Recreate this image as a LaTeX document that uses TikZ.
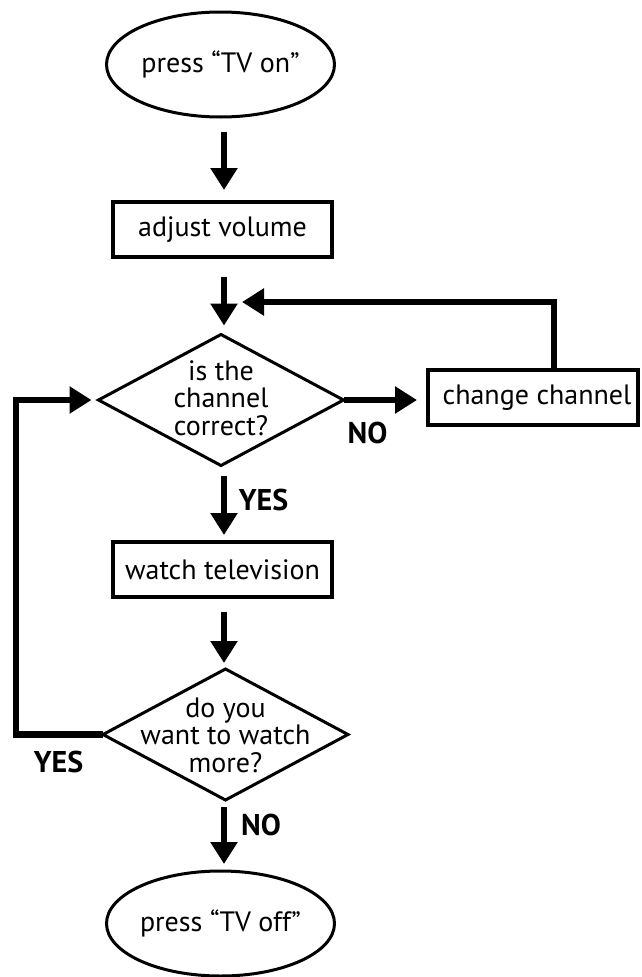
\documentclass[tikz,border=0pt]{standalone}
\usepackage{fontspec}
\setmainfont{PT Sans}
\usetikzlibrary{arrows.meta,shapes.geometric}
\begin{document}
\begin{tikzpicture}[x=1pt,y=-1pt,
  every node/.style={outer sep=0pt},
  txt/.style={font=\fontsize{28}{27.5}\selectfont, align=center, inner sep=0pt},
  lbl/.style={font=\fontsize{30}{30}\selectfont\bfseries, inner sep=0pt},
  term/.style={ellipse, draw, line width=3pt, minimum width=228pt, minimum height=105pt, inner sep=0pt, txt},
  proc/.style={rectangle, draw, line width=3.2pt, minimum width=219pt, minimum height=55pt, inner sep=0pt, txt},
  dec/.style={diamond, draw, line width=3pt, minimum width=245pt, minimum height=131pt, inner sep=0pt},
  arr/.style={line width=6.5pt, -{Triangle[length=22pt,width=26pt]}}
]
\useasboundingbox (0,0) rectangle (641,977);
\coordinate (col) at (224,0);
\node[term] (on)  at (220.5,64.5) {press “TV on”};
\node[proc] (vol) at (222.5,229.5) {adjust volume};
\node[dec]  (d1)  at (221,400) {};
\node[txt]  (d1t) at (221,398) {is the\\channel\\correct?};
\node[proc, minimum width=210pt] (chg) at (533,397.5) {\hspace*{8pt}change channel};
\node[proc] (wat) at (222.5,569.5) {watch television};
\node[dec]  (d2)  at (225.5,734.5) {};
\node[txt]  (d2t) at (225.5,735) {do you\\want to watch\\more?};
\node[term] (off) at (220.5,923.5) {press “TV off”};
\coordinate (fbtip) at (242,302);
\coordinate (lx) at (16,400);
\node[lbl] (no1)  at (367.5,433) {NO};
\node[lbl] (yes1) at (263.5,500) {YES};
\node[lbl] (yes2) at (58.5,762) {YES};
\node[lbl] (no2)  at (261,825) {NO};
\draw[arr, shorten <=15pt, shorten >=12pt] (on.south -| col) -- (vol.north -| col);
\draw[arr, shorten <=20pt, shorten >=9pt] (vol.south -| col) -- (d1.north -| col);
\draw[arr, shorten >=11pt] (d1.east) -- (chg.west |- d1.east);
\draw[arr] ([xshift=21pt]chg.north) |- (fbtip);
\draw[arr, shorten <=10pt, shorten >=7pt] (d1.south -| col) -- (wat.north -| col);
\draw[arr, shorten <=15pt, shorten >=6pt] (wat.south -| col) -- (d2.north -| col);
\draw[arr, shorten <=7pt, shorten >=7pt] (d2.south -| col) -- (off.north -| col);
\draw[arr, shorten >=7pt] (d2.west) -| (lx) -- (d1.west);
\end{tikzpicture}
\end{document}
